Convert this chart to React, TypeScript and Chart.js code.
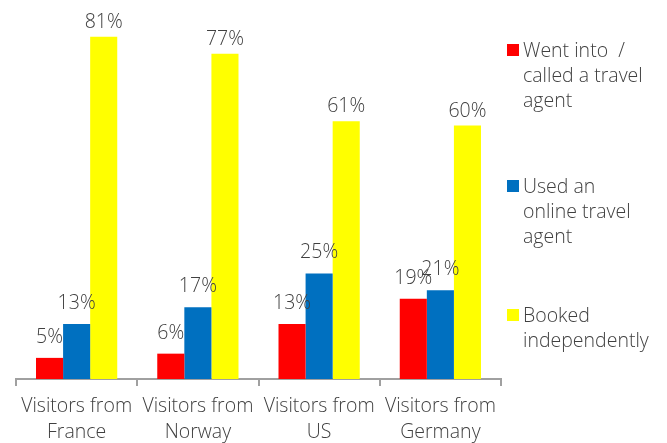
import React, { useEffect, useRef } from "react";
import { Chart, registerables } from "chart.js";

Chart.register(...registerables);

const categories: string[][] = [
  ["Visitors from", "France"],
  ["Visitors from", "Norway"],
  ["Visitors from", "US"],
  ["Visitors from", "Germany"],
];
const seriesNames: string[][] = [
  ["Went into  /", "called a travel", "agent"],
  ["Used an", "online travel", "agent"],
  ["Booked", "independently"],
];
const travelAgentValues = [5, 6, 13, 19];
const onlineAgentValues = [13, 17, 25, 21];
const independentValues = [81, 77, 61, 60];
const seriesColors = ["#FF0000", "#0070C0", "#FFFF00"];

const FONT = "'Open Sans', 'DejaVu Sans', sans-serif";
const TEXT = "#404040";

const valueLabelPlugin = {
  id: "valueLabels",
  afterDatasetsDraw(chart: any) {
    const ctx = chart.ctx;
    ctx.save();
    ctx.font = `300 19.5px ${FONT}`;
    ctx.fillStyle = TEXT;
    ctx.textAlign = "center";
    ctx.textBaseline = "alphabetic";
    chart.data.datasets.forEach((ds: any, di: number) => {
      const meta = chart.getDatasetMeta(di);
      const gap = ds.labelGap ?? 12;
      meta.data.forEach((bar: any, i: number) => {
        ctx.fillText(`${ds.data[i]}%`, bar.x, bar.y - gap);
      });
    });
    ctx.restore();
  },
};

const sideLegendPlugin = {
  id: "sideLegend",
  afterDraw(chart: any, _args: any, opts: any) {
    const ctx = chart.ctx;
    const area = chart.chartArea;
    const boxX = area.right + 6;
    const textX = boxX + 16;
    ctx.save();
    ctx.font = `300 19.5px ${FONT}`;
    ctx.textAlign = "left";
    ctx.textBaseline = "alphabetic";
    chart.data.datasets.forEach((ds: any, di: number) => {
      const baseY = opts.baselines[di];
      ctx.fillStyle = ds.backgroundColor;
      ctx.fillRect(boxX, baseY - 13, 12, 12);
      ctx.fillStyle = TEXT;
      const lines: string[] = ds.legendLines;
      lines.forEach((ln, li) => {
        ctx.fillText(ln, textX, baseY + li * opts.lineHeight);
      });
    });
    ctx.restore();
  },
};

export default function App() {
  const ref = useRef<HTMLCanvasElement | null>(null);

  useEffect(() => {
    if (!ref.current) return;
    const series = [travelAgentValues, onlineAgentValues, independentValues];
    const gaps = [15, 15, 9];
    const chart = new Chart(ref.current, {
      type: "bar",
      data: {
        labels: categories,
        datasets: series.map((vals, i) => ({
          label: seriesNames[i].join(" "),
          legendLines: seriesNames[i],
          labelGap: gaps[i],
          data: vals,
          backgroundColor: seriesColors[i],
          borderWidth: 0,
          categoryPercentage: 0.67,
          barPercentage: 1,
        })) as any,
      },
      options: {
        responsive: false,
        animation: false,
        layout: { padding: { left: 16, right: 166, top: 3, bottom: 0 } },
        plugins: {
          legend: { display: false },
          tooltip: { enabled: false },
          sideLegend: { baselines: [57, 193, 322], lineHeight: 25 },
        } as any,
        scales: {
          x: {
            grid: {
              display: true,
              drawOnChartArea: false,
              drawTicks: true,
              tickLength: 7,
              color: "#A0A0A0",
              lineWidth: 2,
              offset: true,
            },
            border: { display: true, color: "#A0A0A0", width: 2 },
            ticks: {
              color: TEXT,
              font: { family: FONT, size: 19.5, weight: "300", lineHeight: 26 / 19.5 },
              padding: 7,
              maxRotation: 0,
              autoSkip: false,
            },
            afterFit: (scale: any) => {
              scale.height = 64;
            },
          },
          y: {
            display: false,
            min: 0,
            max: 89,
          },
        },
      },
      plugins: [valueLabelPlugin, sideLegendPlugin],
    });
    return () => chart.destroy();
  }, []);

  return (
    <div style={{ position: "absolute", left: 0, top: 0, width: 667, height: 443 }}>
      <canvas ref={ref} width={667} height={443} style={{ display: "block" }} />
    </div>
  );
}
